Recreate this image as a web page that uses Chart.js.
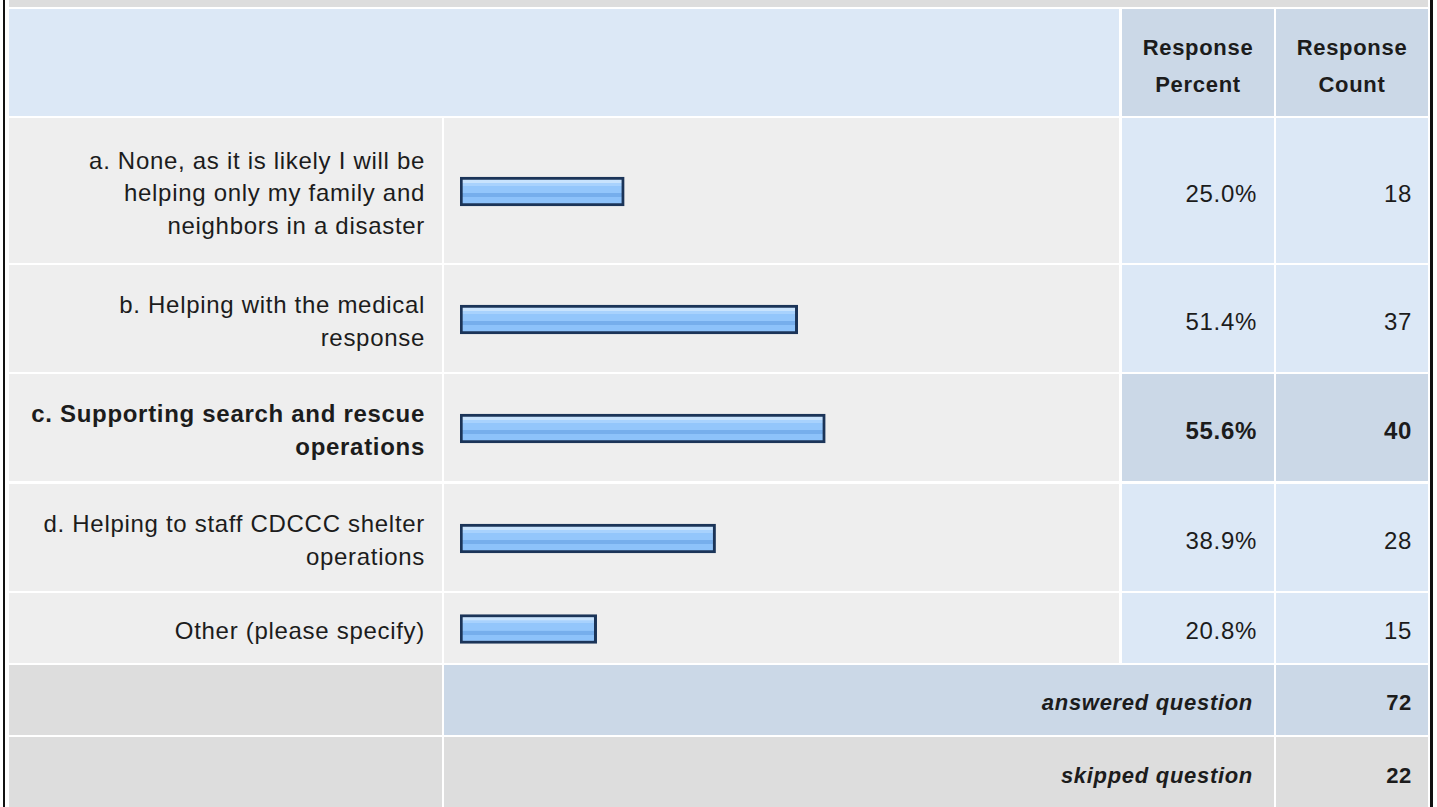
<!DOCTYPE html>
<html>
<head>
<meta charset="utf-8">
<script src="https://cdn.jsdelivr.net/npm/chart.js@4/dist/chart.umd.min.js"></script>
<style>
html,body{margin:0;padding:0;background:#fff;width:1437px;height:807px;overflow:hidden;
  font-family:"Liberation Sans",Arial,Helvetica,sans-serif;color:#1c1c1c;}
#page{position:relative;width:1437px;height:807px;}
.cell{position:absolute;box-sizing:border-box;display:flex;align-items:center;}
.lbl{justify-content:flex-end;text-align:right;font-size:24px;line-height:32.5px;letter-spacing:0.7px;padding-right:17px;padding-top:6px;white-space:pre-line;}
.num{justify-content:flex-end;text-align:right;font-size:24px;letter-spacing:0.7px;padding-top:6px;}
.hdr{justify-content:center;text-align:center;font-size:22px;font-weight:bold;line-height:37px;letter-spacing:0.7px;padding-top:6px;}
.foot{justify-content:flex-end;text-align:right;font-size:22px;font-weight:bold;letter-spacing:0.7px;padding-top:6px;}
.bold{font-weight:bold;}
.vline{position:absolute;background:#111;}
canvas{position:absolute;}
</style>
</head>
<body>
<div id="page"></div>
<script>
// ---- data ----
const categories = [
  "a. None, as it is likely I will be\nhelping only my family and\nneighbors in a disaster",
  "b. Helping with the medical\nresponse",
  "c. Supporting search and rescue\noperations",
  "d. Helping to staff CDCCC shelter\noperations",
  "Other (please specify)"
];
const percents = [25.0, 51.4, 55.6, 38.9, 20.8];
const counts = [18, 37, 40, 28, 15];
const headerLabels = ["Response\nPercent", "Response\nCount"];
const footerLabels = ["answered question", "skipped question"];
const footerValues = [72, 22];

// ---- layout (positions only) ----
const colX = {lbl:[9,442], bar:[444,1119], pct:[1122,1274], cnt:[1276,1428]};
const rowTop = [118, 265, 374, 484, 593];
const rowBot = [263, 372, 481, 591, 663];
const footTop = [665, 737];
const footBot = [735, 809];

const C = {gray:'#dddddd', light:'#eeeeee', blue:'#dce8f6', blue2:'#cbd8e7'};
const page = document.getElementById('page');

function cell(x0,x1,y0,y1,bg,cls,text,extra){
  const d=document.createElement('div');
  d.className='cell '+(cls||'');
  d.style.left=x0+'px'; d.style.top=y0+'px';
  d.style.width=(x1-x0)+'px'; d.style.height=(y1-y0)+'px';
  d.style.background=bg;
  if(text!==undefined) d.textContent=text;
  if(extra) Object.assign(d.style,extra);
  page.appendChild(d); return d;
}

// borders
const lb=document.createElement('div'); lb.className='vline';
Object.assign(lb.style,{left:'3px',top:'0px',width:'2px',height:'807px'}); page.appendChild(lb);
const rb=document.createElement('div'); rb.className='vline';
Object.assign(rb.style,{left:'1430px',top:'0px',width:'3px',height:'807px'}); page.appendChild(rb);

// top band (previous row cut off)
cell(9,1428,0,7,C.gray);

// header
cell(9,1119,9,116,C.blue);
cell(colX.pct[0],colX.pct[1],9,116,C.blue2,'hdr').innerText=headerLabels[0];
cell(colX.cnt[0],colX.cnt[1],9,116,C.blue2,'hdr').innerText=headerLabels[1];

const maxP = Math.max(...percents);

function barFill(c){
  const chart=c.chart, a=chart.chartArea;
  if(!a) return '#93c6fb';
  const mid=(a.top+a.bottom)/2, h=29, t=mid-h/2;
  const g=chart.ctx.createLinearGradient(0,t,0,t+h);
  g.addColorStop(0.00,'#c8e3fd');
  g.addColorStop(0.20,'#c8e3fd');
  g.addColorStop(0.21,'#a8d2fd');
  g.addColorStop(0.30,'#a8d2fd');
  g.addColorStop(0.31,'#93c6fb');
  g.addColorStop(0.55,'#93c6fb');
  g.addColorStop(0.56,'#76aeec');
  g.addColorStop(0.69,'#76aeec');
  g.addColorStop(0.70,'#8dc2fa');
  g.addColorStop(1.00,'#8dc2fa');
  return g;
}

categories.forEach((cat,i)=>{
  const hi = percents[i]===maxP;
  const y0=rowTop[i], y1=rowBot[i];
  cell(colX.lbl[0],colX.lbl[1],y0,y1,C.light,'lbl'+(hi?' bold':''),cat);
  cell(colX.bar[0],colX.bar[1],y0,y1,C.light);
  cell(colX.pct[0],colX.pct[1],y0,y1,hi?C.blue2:C.blue,'num'+(hi?' bold':''),percents[i].toFixed(1)+'%',{paddingRight:'17px'});
  cell(colX.cnt[0],colX.cnt[1],y0,y1,hi?C.blue2:C.blue,'num'+(hi?' bold':''),String(counts[i]),{paddingRight:'16px'});

  const cv=document.createElement('canvas');
  cv.width=colX.bar[1]-colX.bar[0]; cv.height=y1-y0;
  cv.style.left=colX.bar[0]+'px'; cv.style.top=y0+'px';
  page.appendChild(cv);
  new Chart(cv,{
    type:'bar',
    data:{labels:[cat],datasets:[{data:[percents[i]],backgroundColor:barFill,
      borderColor:'#1b3458',borderWidth:3,borderSkipped:false,barThickness:29}]},
    options:{indexAxis:'y',responsive:false,animation:false,devicePixelRatio:1,
      layout:{padding:{left:16,right:2,top:2,bottom:0}},
      scales:{x:{min:0,max:100,display:false},y:{display:false}},
      plugins:{legend:{display:false},tooltip:{enabled:false}}}
  });
});

// footer rows
cell(colX.lbl[0],colX.lbl[1],footTop[0],footBot[0],C.gray);
cell(colX.bar[0],colX.pct[1],footTop[0],footBot[0],C.blue2,'foot',footerLabels[0],{paddingRight:'21px',fontStyle:'italic'});
cell(colX.cnt[0],colX.cnt[1],footTop[0],footBot[0],C.blue2,'foot',String(footerValues[0]),{paddingRight:'16px'});
cell(colX.lbl[0],colX.lbl[1],footTop[1],footBot[1],C.gray);
cell(colX.bar[0],colX.pct[1],footTop[1],footBot[1],C.gray,'foot',footerLabels[1],{paddingRight:'21px',fontStyle:'italic'});
cell(colX.cnt[0],colX.cnt[1],footTop[1],footBot[1],C.gray,'foot',String(footerValues[1]),{paddingRight:'16px'});
</script>
</body>
</html>
